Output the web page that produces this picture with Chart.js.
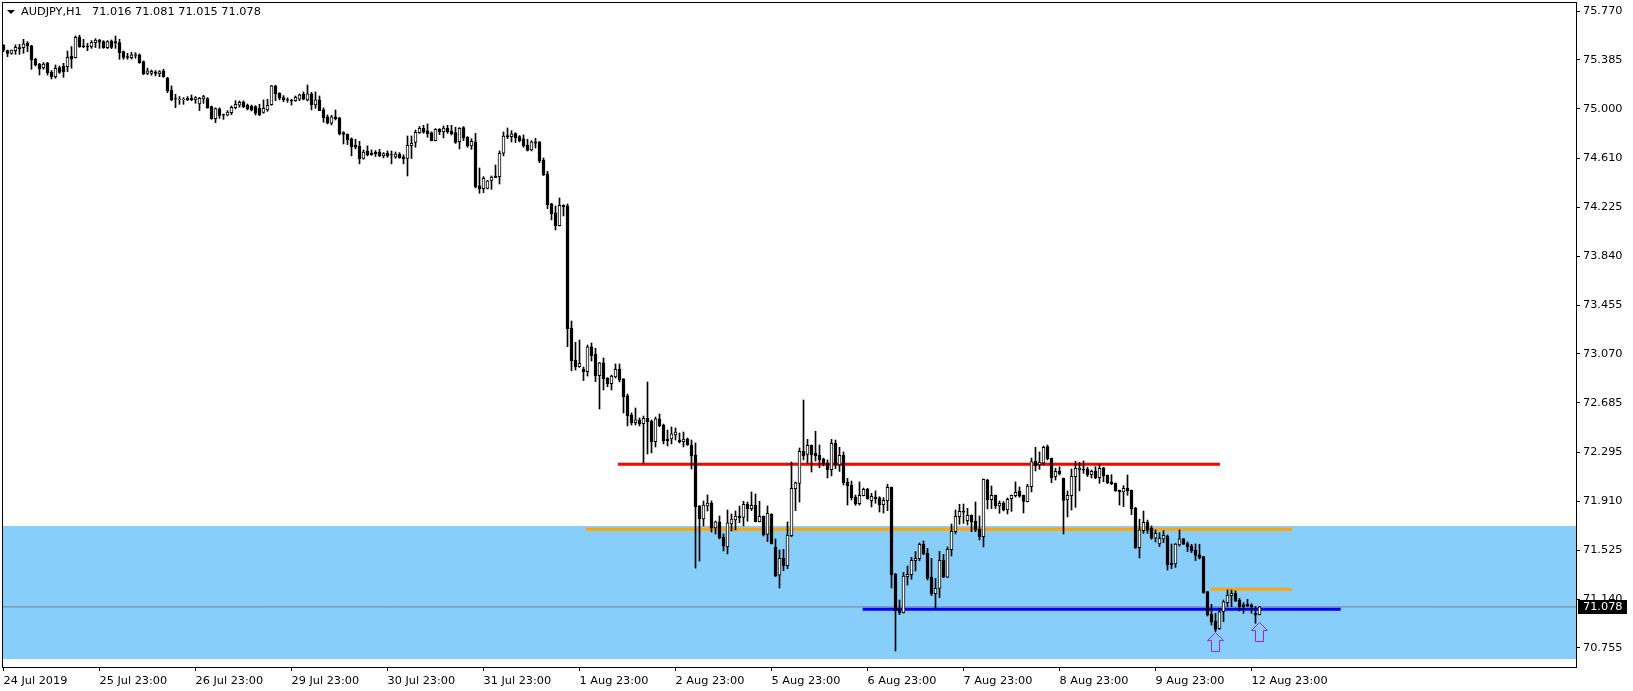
<!DOCTYPE html>
<html>
<head>
<meta charset="utf-8">
<title>AUDJPY,H1</title>
<script src="https://cdn.jsdelivr.net/npm/chart.js@4/dist/chart.umd.min.js"></script>
<style>
    html, body { margin: 0; padding: 0; background: #fff; }
    canvas { display: block; }
</style>
</head>
<body>
<canvas id="chart" width="1633" height="691"></canvas>
<script>
// H1 candles, oldest first
const highs = [
75.505,75.463,75.463,75.503,75.508,75.547,75.529,75.500,75.398,75.358,
75.364,75.366,75.301,75.345,75.337,75.358,75.455,75.490,75.573,75.579,
75.547,75.516,75.537,75.552,75.547,75.537,75.537,75.542,75.573,75.547,
75.455,75.437,75.445,75.442,75.432,75.377,75.319,75.306,75.301,75.301,
75.311,75.248,75.180,75.114,75.096,75.088,75.096,75.109,75.096,75.090,
75.106,75.088,75.022,75.007,75.007,74.959,74.986,75.022,75.064,75.062,
75.062,75.038,75.030,75.025,75.035,75.070,75.075,75.185,75.185,75.127,
75.104,75.086,75.075,75.101,75.117,75.133,75.188,75.130,75.133,75.101,
75.007,74.952,74.949,74.991,74.933,74.820,74.802,74.771,74.760,74.744,
74.676,74.708,74.676,74.671,74.681,74.655,74.668,74.668,74.660,74.655,
74.637,74.786,74.786,74.833,74.860,74.870,74.881,74.818,74.844,74.844,
74.865,74.870,74.870,74.855,74.852,74.860,74.781,74.765,74.807,74.534,
74.466,74.437,74.471,74.558,74.668,74.818,74.849,74.828,74.812,74.789,
74.794,74.760,74.749,74.768,74.742,74.613,74.508,74.256,74.235,74.298,
74.245,74.251,73.329,73.161,73.180,72.967,73.140,73.156,73.114,73.004,
73.038,72.883,72.904,72.991,72.991,72.875,72.754,72.605,72.644,72.566,
72.581,72.849,72.550,72.573,72.597,72.518,72.471,72.495,72.487,72.447,
72.455,72.408,72.392,72.369,71.875,71.912,71.959,71.912,71.754,71.794,
71.652,71.841,71.810,71.833,71.872,71.909,71.904,71.983,71.967,71.909,
71.794,71.873,71.812,71.613,71.526,71.531,71.747,72.219,72.062,72.329,
72.707,72.397,72.353,72.461,72.353,72.250,72.235,72.397,72.392,72.335,
72.298,72.090,72.069,71.959,72.062,72.014,72.012,71.972,71.991,71.946,
71.938,72.043,72.022,71.342,71.132,71.350,71.400,71.468,71.513,71.581,
71.597,71.539,71.460,71.303,71.515,71.492,71.550,71.731,71.841,71.886,
71.888,71.854,71.802,71.904,71.794,72.085,72.083,72.030,71.959,71.912,
71.907,71.936,71.959,72.062,72.022,71.959,72.043,72.250,72.334,72.298,
72.345,72.353,72.250,72.169,72.180,72.093,71.991,72.164,72.224,72.216,
72.227,72.177,72.156,72.182,72.203,72.177,72.117,72.119,72.054,71.998,
72.033,72.117,71.998,71.862,71.768,71.833,71.762,71.715,71.684,71.662,
71.678,71.644,71.573,71.578,71.684,71.618,71.589,71.571,71.573,71.571,
71.476,71.200,71.098,71.027,71.067,71.132,71.211,71.211,71.203,71.145,
71.111,71.137,71.103,71.080,71.081
];
const lows = [
75.450,75.411,75.429,75.429,75.429,75.437,75.450,75.311,75.337,75.266,
75.311,75.266,75.235,75.240,75.279,75.248,75.293,75.319,75.400,75.484,
75.482,75.458,75.476,75.482,75.476,75.476,75.474,75.474,75.476,75.390,
75.390,75.390,75.392,75.398,75.358,75.269,75.269,75.264,75.259,75.253,
75.248,75.127,75.064,75.009,75.035,75.035,75.064,75.064,75.043,74.986,
75.043,75.004,74.917,74.891,74.925,74.917,74.944,74.954,74.999,75.012,
75.009,74.991,74.983,74.951,74.946,74.965,74.980,75.028,75.064,75.070,
75.056,75.051,75.030,75.059,75.064,75.070,75.062,74.991,75.004,74.986,
74.894,74.881,74.873,74.912,74.794,74.723,74.718,74.629,74.684,74.566,
74.603,74.629,74.634,74.624,74.624,74.613,74.618,74.566,74.610,74.610,
74.566,74.471,74.608,74.697,74.807,74.807,74.776,74.747,74.747,74.797,
74.771,74.807,74.794,74.728,74.684,74.749,74.697,74.681,74.377,74.335,
74.340,74.369,74.366,74.458,74.408,74.629,74.765,74.739,74.734,74.739,
74.697,74.668,74.668,74.692,74.576,74.474,74.214,74.125,74.046,74.077,
74.156,73.127,72.938,72.943,72.964,72.860,72.896,73.014,72.852,72.636,
72.786,72.812,72.786,72.880,72.849,72.605,72.503,72.510,72.510,72.503,
72.209,72.282,72.290,72.337,72.497,72.361,72.345,72.361,72.392,72.369,
72.337,72.350,72.164,71.384,71.439,71.715,71.833,71.668,71.652,71.613,
71.518,71.495,71.676,71.684,71.741,71.715,71.752,71.836,71.747,71.747,
71.636,71.592,71.573,71.316,71.227,71.363,71.379,71.631,71.836,71.904,
72.235,72.211,72.140,72.227,72.174,72.188,72.093,72.109,72.167,72.145,
72.038,71.880,71.920,71.878,71.880,71.951,71.925,71.865,71.894,71.825,
71.817,71.836,71.227,70.731,71.017,71.030,71.250,71.295,71.361,71.442,
71.489,71.290,71.166,71.061,71.151,71.308,71.308,71.479,71.652,71.728,
71.736,71.723,71.670,71.670,71.605,71.550,71.849,71.852,71.852,71.815,
71.833,71.810,71.830,71.943,71.941,71.817,71.904,71.983,72.148,72.161,
72.195,72.235,72.056,72.077,72.117,71.652,71.786,71.841,71.862,71.991,
72.130,72.104,72.093,72.088,72.051,72.064,72.048,72.041,71.988,71.880,
71.867,71.957,71.804,71.539,71.463,71.657,71.657,71.610,71.589,71.552,
71.584,71.368,71.379,71.389,71.557,71.568,71.513,71.505,71.442,71.455,
71.185,71.006,70.935,70.883,70.901,70.962,71.080,71.080,71.119,71.046,
71.027,71.080,71.027,70.949,71.015
];
const opens = [
75.500,75.458,75.437,75.458,75.482,75.482,75.516,75.495,75.390,75.353,
75.322,75.358,75.287,75.253,75.324,75.337,75.332,75.416,75.403,75.563,
75.495,75.492,75.490,75.521,75.542,75.529,75.482,75.534,75.529,75.521,
75.450,75.411,75.403,75.421,75.424,75.371,75.279,75.279,75.290,75.274,
75.298,75.240,75.148,75.080,75.072,75.072,75.083,75.083,75.070,75.038,
75.077,75.080,75.017,74.923,74.999,74.954,74.949,74.970,75.009,75.028,
75.054,75.030,75.022,75.017,75.004,74.972,74.991,75.033,75.180,75.122,
75.088,75.072,75.067,75.064,75.075,75.114,75.070,75.117,75.030,75.070,
74.991,74.936,74.886,74.936,74.928,74.812,74.799,74.763,74.713,74.705,
74.610,74.668,74.652,74.658,74.660,74.629,74.650,74.639,74.621,74.644,
74.621,74.610,74.710,74.736,74.812,74.847,74.826,74.812,74.749,74.839,
74.818,74.849,74.826,74.812,74.742,74.852,74.778,74.708,74.739,74.393,
74.372,74.374,74.437,74.471,74.466,74.650,74.789,74.781,74.805,74.781,
74.763,74.715,74.676,74.739,74.739,74.597,74.487,74.251,74.180,74.080,
74.240,74.235,73.274,73.022,72.970,72.951,72.930,73.125,73.069,72.899,
72.999,72.880,72.836,72.888,72.951,72.873,72.739,72.589,72.529,72.550,
72.521,72.563,72.542,72.379,72.558,72.510,72.400,72.400,72.432,72.392,
72.379,72.400,72.353,72.274,71.873,71.770,71.873,71.896,71.699,71.747,
71.628,71.550,71.731,71.762,71.794,71.783,71.886,71.851,71.878,71.749,
71.791,71.649,71.807,71.547,71.327,71.460,71.403,71.639,72.009,72.051,
72.303,72.279,72.350,72.287,72.274,72.240,72.209,72.159,72.366,72.195,
72.272,72.059,72.035,71.943,71.891,71.954,72.004,71.914,71.943,71.936,
71.883,71.914,72.020,71.337,71.054,71.033,71.316,71.332,71.442,71.458,
71.573,71.500,71.313,71.182,71.224,71.445,71.313,71.529,71.670,71.788,
71.833,71.757,71.799,71.752,71.691,71.631,72.077,71.922,71.957,71.873,
71.896,71.841,71.930,71.954,71.988,71.957,71.907,72.025,72.224,72.195,
72.209,72.340,72.248,72.104,72.148,72.090,71.922,71.954,72.104,72.159,
72.164,72.164,72.119,72.148,72.096,72.172,72.114,72.062,72.051,71.996,
71.983,72.012,71.996,71.857,71.544,71.678,71.746,71.699,71.620,71.573,
71.613,71.636,71.421,71.416,71.565,71.613,71.576,71.557,71.526,71.487,
71.474,71.198,71.022,70.967,70.906,71.040,71.111,71.166,71.185,71.132,
71.096,71.101,71.093,71.030,71.016
];
const closes = [
75.463,75.437,75.463,75.484,75.474,75.511,75.495,75.385,75.345,75.314,
75.353,75.285,75.253,75.319,75.287,75.293,75.405,75.390,75.563,75.490,
75.490,75.487,75.524,75.542,75.524,75.482,75.529,75.484,75.516,75.442,
75.405,75.405,75.424,75.426,75.364,75.274,75.298,75.295,75.279,75.293,
75.253,75.143,75.070,75.075,75.077,75.077,75.070,75.070,75.088,75.083,
75.096,75.009,74.923,75.001,74.946,74.949,74.975,75.012,75.035,75.051,
75.017,74.999,74.991,74.965,74.951,75.004,75.028,75.180,75.117,75.083,
75.070,75.067,75.062,75.091,75.109,75.075,75.117,75.030,75.070,74.986,
74.931,74.886,74.936,74.920,74.802,74.799,74.755,74.702,74.697,74.608,
74.660,74.637,74.639,74.647,74.629,74.647,74.631,74.634,74.644,74.616,
74.608,74.713,74.728,74.815,74.847,74.815,74.805,74.749,74.839,74.818,
74.849,74.818,74.802,74.736,74.847,74.771,74.708,74.744,74.387,74.372,
74.453,74.432,74.463,74.458,74.650,74.786,74.781,74.802,74.771,74.749,
74.708,74.673,74.739,74.729,74.589,74.479,74.246,74.175,74.080,74.240,
74.230,73.269,73.017,72.970,72.996,72.930,73.125,73.056,72.899,72.999,
72.875,72.836,72.896,72.949,72.865,72.734,72.584,72.526,72.550,72.518,
72.563,72.537,72.377,72.558,72.503,72.384,72.384,72.440,72.455,72.377,
72.400,72.353,72.266,71.865,71.770,71.880,71.896,71.699,71.747,71.621,
71.557,71.739,71.770,71.794,71.781,71.886,71.851,71.878,71.749,71.791,
71.644,71.815,71.576,71.321,71.460,71.400,71.642,72.012,72.054,72.303,
72.269,72.350,72.277,72.266,72.237,72.203,72.159,72.366,72.195,72.272,
72.056,72.030,71.938,71.888,71.956,72.004,71.930,71.949,71.928,71.880,
71.917,72.020,71.332,71.048,71.033,71.321,71.334,71.445,71.460,71.571,
71.495,71.303,71.182,71.224,71.445,71.313,71.531,71.673,71.791,71.830,
71.823,71.799,71.746,71.684,71.631,72.083,71.920,71.957,71.873,71.894,
71.841,71.925,71.957,71.980,71.949,71.909,72.030,72.222,72.190,72.216,
72.334,72.243,72.096,72.145,72.125,71.917,71.957,72.106,72.169,72.169,
72.156,72.117,72.145,72.093,72.169,72.111,72.054,72.046,71.993,71.985,
72.012,71.991,71.849,71.542,71.684,71.744,71.681,71.620,71.657,71.618,
71.641,71.410,71.408,71.573,71.613,71.571,71.550,71.521,71.484,71.463,
71.190,71.014,70.962,70.901,71.040,71.117,71.169,71.185,71.127,71.080,
71.080,71.088,71.080,71.012,71.078
];

const priceTicks = [75.770, 75.385, 75.000, 74.610, 74.225, 73.840, 73.455, 73.070, 72.685, 72.295, 71.910, 71.525, 71.140, 70.755];
const timeTickBars = [0, 24, 48, 72, 96, 120, 144, 168, 192, 216, 240, 264, 288, 312];
const timeLabels = ['24 Jul 2019', '25 Jul 23:00', '26 Jul 23:00', '29 Jul 23:00', '30 Jul 23:00', '31 Jul 23:00', '1 Aug 23:00',
    '2 Aug 23:00', '5 Aug 23:00', '6 Aug 23:00', '7 Aug 23:00', '8 Aug 23:00', '9 Aug 23:00', '12 Aug 23:00'];

const lastPrice = 71.078;
const zoneTop = 71.715;
const zoneBottom = 70.668;
const redLine = [[153.6, 72.201], [304.1, 72.201]];
const orangeLine = [[145.6, 71.689], [322.1, 71.689]];
const orangeShortLine = [[301.8, 71.216], [322.1, 71.216]];
const blueLine = [[214.8, 71.059], [334.3, 71.059]];
const arrowBars = [303, 314];
const arrowPrices = [70.8015, 70.8803];

const FONT = 'DejaVu Sans';
const FONT_SIZE = 11.3;
const xMin = -0.375;
const xMax = 393.125;
const yMax = 75.8409;
const yMin = 70.6047;

// Up arrow outline used as the point image
function makeArrow() {
    const c = document.createElement('canvas');
    c.width = 17;
    c.height = 20;
    const g = c.getContext('2d');
    g.strokeStyle = '#9F20E8';
    g.lineWidth = 1;
    g.beginPath();
    g.moveTo(8.5, 0.5);
    g.lineTo(16.5, 8.5);
    g.lineTo(12.5, 8.5);
    g.lineTo(12.5, 19.5);
    g.lineTo(4.5, 19.5);
    g.lineTo(4.5, 8.5);
    g.lineTo(0.5, 8.5);
    g.closePath();
    g.stroke();
    return c;
}

function trend(points, color) {
    return {
        type: 'line',
        data: points.map(p => ({ x: p[0], y: p[1] })),
        borderColor: color,
        borderWidth: 3,
        pointRadius: 0,
        order: 8
    };
}

// Chart.js reserves room for half a tick label, the frame has to sit at the canvas edge
function noLabelPadding(axis) {
    axis.paddingTop = 0;
    axis.paddingBottom = 0;
    axis.paddingLeft = 0;
    axis.paddingRight = 0;
}

// Frame, symbol header and the last price box
const overlay = {
    id: 'overlay',
    afterDraw(chart) {
        const ctx = chart.ctx;
        const area = chart.chartArea;
        ctx.save();
        ctx.strokeStyle = '#000';
        ctx.lineWidth = 1;
        ctx.strokeRect(area.left + 0.5, area.top + 0.5, area.right - area.left, area.bottom - area.top);

        ctx.fillStyle = '#000';
        ctx.beginPath();
        ctx.moveTo(7, 10);
        ctx.lineTo(15, 10);
        ctx.lineTo(11, 14);
        ctx.closePath();
        ctx.fill();

        ctx.font = FONT_SIZE + 'px "' + FONT + '"';
        ctx.textBaseline = 'middle';
        ctx.textAlign = 'left';
        ctx.fillText('AUDJPY,H1', 21, 12.5);
        ctx.fillText('71.016 71.081 71.015 71.078', 92, 12.5);

        const y = Math.round(chart.scales.y.getPixelForValue(lastPrice));
        ctx.fillStyle = '#000';
        ctx.fillRect(1578, y - 7, 49, 14);
        ctx.fillStyle = '#fff';
        ctx.fillText(lastPrice.toFixed(3), 1583, y + 0.5);
        ctx.restore();
    }
};

new Chart(document.getElementById('chart'), {
    type: 'bar',
    data: {
        datasets: [
            {
                type: 'scatter',
                data: arrowBars.map((b, i) => ({ x: b, y: arrowPrices[i] })),
                pointStyle: makeArrow(),
                order: 0
            },
            {
                label: 'bodies',
                data: opens.map((o, i) => ({ x: i, y: [o, closes[i]] })),
                barThickness: 3,
                grouped: false,
                borderSkipped: false,
                borderWidth: 1,
                borderColor: '#000',
                backgroundColor: ctx => closes[ctx.dataIndex] > opens[ctx.dataIndex] ? '#fff' : '#000',
                order: 1
            },
            {
                label: 'wicks',
                data: highs.map((h, i) => ({ x: i, y: [lows[i], h] })),
                barThickness: 1,
                grouped: false,
                borderWidth: 0,
                backgroundColor: '#000',
                order: 2
            },
            trend(redLine, '#FF0000'),
            trend(orangeLine, '#FFA500'),
            trend(orangeShortLine, '#FFA500'),
            trend(blueLine, '#0000FF'),
            {
                type: 'line',
                data: [{ x: xMin, y: lastPrice }, { x: xMax, y: lastPrice }],
                borderColor: '#808080',
                borderWidth: 1,
                pointRadius: 0,
                order: 9
            },
            {
                type: 'line',
                data: [{ x: xMin, y: zoneTop }, { x: xMax, y: zoneTop }],
                borderWidth: 0,
                pointRadius: 0,
                fill: { value: zoneBottom },
                backgroundColor: '#87CEFA',
                order: 10
            }
        ]
    },
    options: {
        responsive: false,
        animation: false,
        events: [],
        layout: { autoPadding: false, padding: { left: 2, top: 2, right: 0, bottom: 0 } },
        plugins: { legend: { display: false }, tooltip: { enabled: false } },
        scales: {
            x: {
                type: 'linear',
                min: xMin,
                max: xMax,
                offset: false,
                afterBuildTicks: axis => { axis.ticks = timeTickBars.map(v => ({ value: v })); },
                afterFit: axis => { axis.height = 24; noLabelPadding(axis); },
                grid: { drawOnChartArea: false, offset: false, tickLength: 4, tickColor: '#000' },
                border: { color: '#000' },
                ticks: {
                    autoSkip: false,
                    maxRotation: 0,
                    align: 'start',
                    padding: 3,
                    color: '#000',
                    font: { family: FONT, size: FONT_SIZE },
                    callback: (value, index) => timeLabels[index]
                }
            },
            y: {
                position: 'right',
                min: yMin,
                max: yMax,
                afterBuildTicks: axis => { axis.ticks = priceTicks.map(v => ({ value: v })); },
                afterFit: axis => { axis.width = 57; noLabelPadding(axis); },
                grid: { drawOnChartArea: false, tickLength: 4, tickColor: '#000' },
                border: { color: '#000' },
                ticks: {
                    autoSkip: false,
                    padding: 3,
                    color: '#000',
                    font: { family: FONT, size: FONT_SIZE },
                    callback: value => value.toFixed(3)
                }
            }
        }
    },
    plugins: [overlay]
});
</script>
</body>
</html>
